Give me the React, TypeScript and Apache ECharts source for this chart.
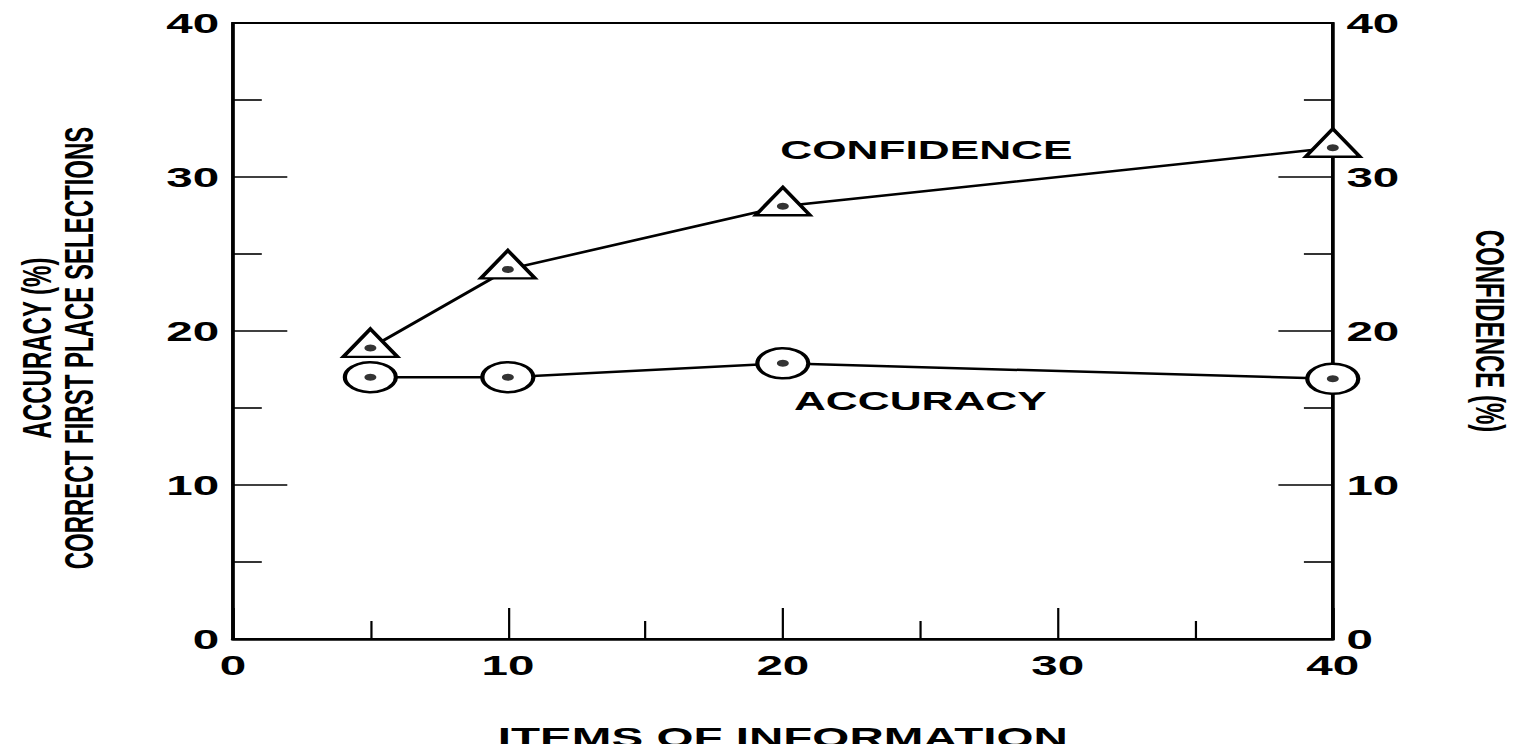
import React, { useEffect, useRef } from "react";
import * as echarts from "echarts";

// Items of information (x) at which both measures were taken
const itemsOfInformation = [5, 10, 20, 40];
// Confidence (%) — right axis
const confidenceValues = [18.9, 24.0, 28.1, 31.9];
// Accuracy (%) — correct first place selections, left axis
const accuracyValues = [17.0, 17.0, 17.9, 16.9];

const xAxisTitle = "ITEMS OF INFORMATION";
const leftAxisTitle = "ACCURACY (%)\nCORRECT FIRST PLACE SELECTIONS";
const rightAxisTitle = "CONFIDENCE (%)";
const confidenceLabel = "CONFIDENCE";
const accuracyLabel = "ACCURACY";

// The original figure is stretched horizontally; render narrow and stretch.
const STRETCH = 1.7;
const BASE_W = 891;
const BASE_H = 752;

const FONT = '"Liberation Sans", Arial, Helvetica, sans-serif';

export default function App() {
  const ref = useRef<HTMLDivElement | null>(null);

  useEffect(() => {
    if (!ref.current) return;
    const chart = echarts.init(ref.current, undefined, { renderer: "svg" });

    const confData = itemsOfInformation.map((x, i) => [x, confidenceValues[i]]);
    const accData = itemsOfInformation.map((x, i) => [x, accuracyValues[i]]);

    const labelStyle = {
      color: "#000",
      fontFamily: FONT,
      fontWeight: "bold" as const,
      fontSize: 28,
    };

    const yAxisCommon = {
      type: "value" as const,
      min: 0,
      max: 40,
      interval: 10,
      splitLine: { show: false },
      axisLine: { show: true, lineStyle: { color: "#000", width: 2 } },
      axisTick: { show: true, inside: true, length: 32, lineStyle: { color: "#000", width: 1.6 } },
      minorTick: { show: true, splitNumber: 2, length: 17, lineStyle: { color: "#000", width: 1.6 } },
      minorSplitLine: { show: false },
      axisLabel: { ...labelStyle, margin: 8 },
      nameLocation: "middle" as const,
    };

    const nameStyle = {
      color: "#000",
      fontFamily: FONT,
      fontWeight: "bold" as const,
      fontSize: 24,
      lineHeight: 25,
    };

    chart.setOption({
      animation: false,
      backgroundColor: "#fff",
      grid: {
        left: 137,
        right: 107,
        top: 23,
        bottom: 113,
        containLabel: false,
        outerBoundsMode: "none",
        show: true,
        borderColor: "#000",
        borderWidth: 2,
        backgroundColor: "transparent",
      },
      xAxis: {
        type: "value",
        min: 0,
        max: 40,
        interval: 10,
        splitLine: { show: false },
        axisLine: { show: true, onZero: false, lineStyle: { color: "#000", width: 2.5 } },
        axisTick: { show: true, inside: true, length: 31, lineStyle: { color: "#000", width: 1.3 } },
        minorTick: { show: true, splitNumber: 2, length: 18, lineStyle: { color: "#000", width: 1.3 } },
        minorSplitLine: { show: false },
        axisLabel: { ...labelStyle, margin: 12 },
        name: xAxisTitle,
        nameLocation: "middle",
        nameGap: 84,
        nameTextStyle: {
          color: "#000",
          fontFamily: FONT,
          fontWeight: "bold",
          fontSize: 28,
        },
      },
      yAxis: [
        {
          ...yAxisCommon,
          position: "left",
          name: leftAxisTitle,
          nameGap: 78,
          nameRotate: 90,
          nameTextStyle: { ...nameStyle, padding: [0, 34, 0, 0] },
        },
        {
          ...yAxisCommon,
          position: "right",
          name: rightAxisTitle,
          nameGap: 80,
          nameRotate: -90,
          nameTextStyle: nameStyle,
        },
      ],
      tooltip: { show: false },
      legend: { show: false },
      series: [
        {
          name: "Accuracy",
          type: "line",
          yAxisIndex: 0,
          data: accData,
          symbol: "circle",
          symbolSize: 30,
          showSymbol: true,
          lineStyle: { color: "#000", width: 2.5 },
          itemStyle: { color: "#fff", borderColor: "#000", borderWidth: 2.5 },
          emphasis: { disabled: true },
          silent: true,
          z: 3,
        },
        {
          name: "Accuracy point",
          type: "scatter",
          yAxisIndex: 0,
          data: accData,
          symbol: "circle",
          symbolSize: 7,
          itemStyle: { color: "#000" },
          emphasis: { disabled: true },
          silent: true,
          z: 5,
        },
        {
          name: "Confidence",
          type: "line",
          yAxisIndex: 1,
          data: confData,
          symbol: "triangle",
          symbolSize: [32, 28],
          symbolOffset: [0, -5],
          showSymbol: true,
          lineStyle: { color: "#000", width: 2.5 },
          itemStyle: { color: "#fff", borderColor: "#000", borderWidth: 2.5 },
          emphasis: { disabled: true },
          silent: true,
          z: 3,
        },
        {
          name: "Confidence point",
          type: "scatter",
          yAxisIndex: 1,
          data: confData,
          symbol: "circle",
          symbolSize: 7,
          itemStyle: { color: "#000" },
          emphasis: { disabled: true },
          silent: true,
          z: 5,
        },
      ],
      graphic: [
        {
          type: "text",
          x: 459,
          y: 150,
          silent: true,
          style: {
            text: confidenceLabel,
            fill: "#000",
            font: `bold 26px ${FONT}`,
            textAlign: "left",
            textVerticalAlign: "middle",
            align: "left",
            verticalAlign: "middle",
          },
        },
        {
          type: "text",
          x: 467,
          y: 401,
          silent: true,
          style: {
            text: accuracyLabel,
            fill: "#000",
            font: `bold 26px ${FONT}`,
            textAlign: "left",
            textVerticalAlign: "middle",
            align: "left",
            verticalAlign: "middle",
          },
        },
      ],
    });

    return () => {
      chart.dispose();
    };
  }, []);

  return (
    <div
      style={{
        position: "relative",
        marginTop: -8,
        marginLeft: -8,
        marginBottom: -8,
        width: 1515,
        height: BASE_H,
        overflow: "hidden",
        background: "#fff",
      }}
    >
      <div
        ref={ref}
        style={{
          position: "absolute",
          left: 0,
          top: 0,
          width: BASE_W,
          height: BASE_H,
          transform: `scaleX(${STRETCH})`,
          transformOrigin: "0 0",
        }}
      />
    </div>
  );
}
